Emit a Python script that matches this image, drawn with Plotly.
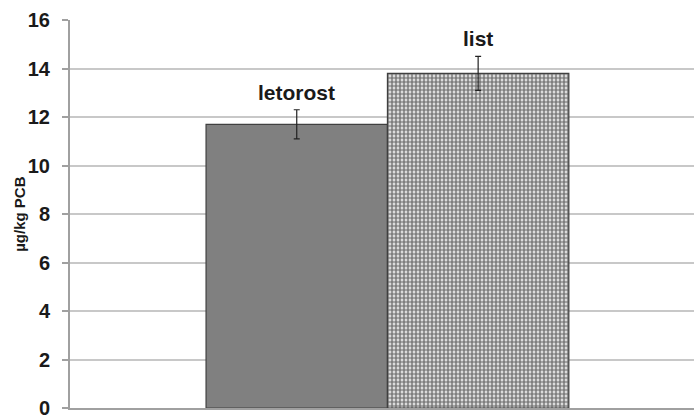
import plotly.graph_objects as go

categories = ["letorost", "list"]
values = [11.7, 13.8]
errors = [0.6, 0.7]
positions = [0, 1]

FONT = "Liberation Sans, Arial, sans-serif"

fig = go.Figure()
fig.add_trace(go.Bar(
    x=[positions[0]], y=[values[0]],
    error_y=dict(type="data", array=[errors[0]], color="#222222", thickness=1.2, width=3),
    marker=dict(color="#808080", line=dict(color="#404040", width=1.2)),
    width=1.0, showlegend=False,
))
fig.add_trace(go.Bar(
    x=[positions[1]], y=[values[1]],
    error_y=dict(type="data", array=[errors[1]], color="#222222", thickness=1.2, width=3),
    marker=dict(color="white", line=dict(color="#404040", width=1.2),
                pattern=dict(shape=".", fgcolor="black", bgcolor="white", size=4, solidity=0.7)),
    width=1.0, showlegend=False,
))

for p, c, v, e in zip(positions, categories, values, errors):
    fig.add_annotation(x=p, y=v + e, text=f"<b>{c}</b>", showarrow=False,
                       yanchor="bottom", yshift=4,
                       font=dict(family=FONT, size=21, color="#1a1a1a"))

fig.add_annotation(xref="paper", yref="paper", x=-0.082, y=0.5, xanchor="center", yanchor="middle",
                   text="<b>µg/kg PCB</b>", textangle=-90, showarrow=False,
                   font=dict(family=FONT, size=15, color="#1a1a1a"))

fig.update_layout(
    width=694, height=417,
    margin=dict(l=70, r=0, t=20, b=9),
    paper_bgcolor="white", plot_bgcolor="white",
    barmode="overlay",
    font=dict(family=FONT),
    xaxis=dict(range=[-1.25, 2.19], showticklabels=False, showgrid=False, zeroline=False,
               showline=True, linecolor="#a0a0a0", linewidth=2, ticks="", automargin=False),
    yaxis=dict(range=[0, 16], dtick=2, showgrid=True, gridcolor="#c8c8c8", gridwidth=1.5,
               zeroline=False, showline=True, linecolor="#a0a0a0", linewidth=2,
               ticks="outside", ticklen=6, tickcolor="#a0a0a0", tickwidth=1.5,
               automargin=False, ticklabelstandoff=8, ticklabeloverflow="allow",
               tickfont=dict(family=FONT, size=20, color="#1a1a1a", weight="bold")),
)

fig.write_html("out.html", config={"displayModeBar": False},
               post_script="document.body.style.margin='0';document.body.style.overflow='hidden';")
